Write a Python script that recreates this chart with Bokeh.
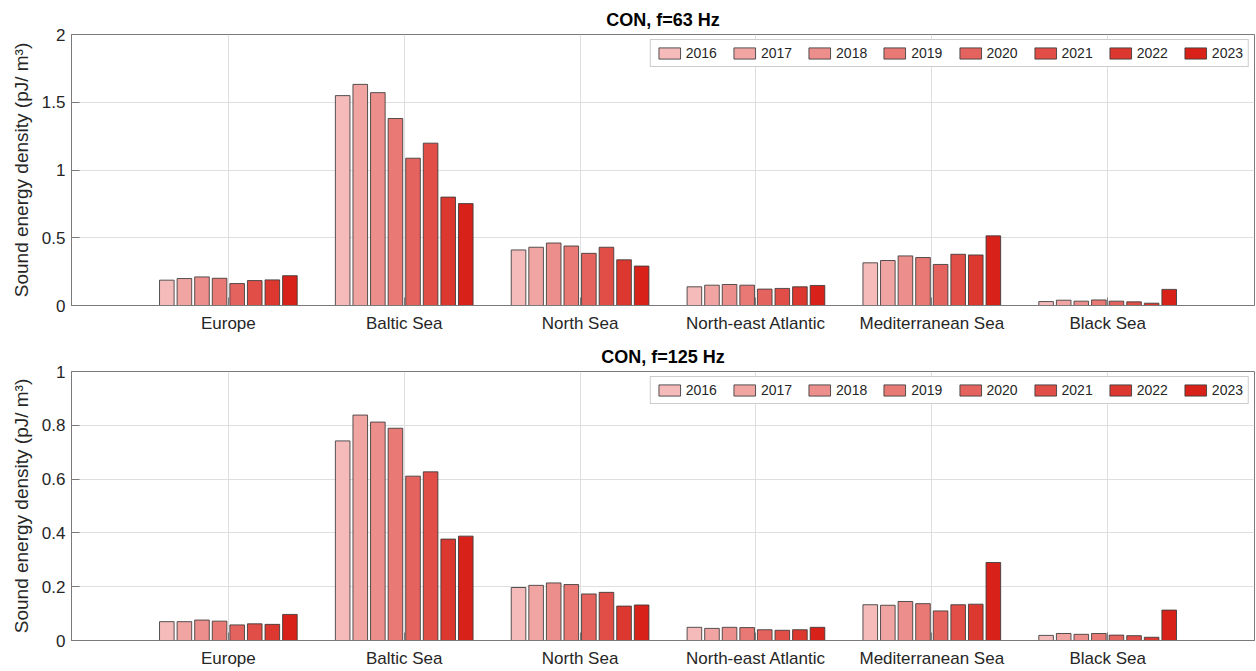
from bokeh.plotting import figure
from bokeh.layouts import column
from bokeh.models import Range1d, FixedTicker, CustomJSTickFormatter, NumeralTickFormatter, Legend, LegendItem
from bokeh.embed import file_html
from bokeh.resources import INLINE

regions = ["Europe", "Baltic Sea", "North Sea", "North-east Atlantic", "Mediterranean Sea", "Black Sea"]
years = ["2016", "2017", "2018", "2019", "2020", "2021", "2022", "2023"]

# CON, f=63 Hz  (values per region, one per year 2016..2023)
f63_europe = [0.187, 0.199, 0.211, 0.201, 0.162, 0.184, 0.189, 0.220]
f63_baltic = [1.549, 1.632, 1.571, 1.380, 1.087, 1.198, 0.800, 0.752]
f63_north = [0.410, 0.430, 0.461, 0.439, 0.385, 0.430, 0.337, 0.291]
f63_nea = [0.138, 0.150, 0.155, 0.150, 0.121, 0.126, 0.138, 0.148]
f63_med = [0.315, 0.332, 0.366, 0.354, 0.303, 0.378, 0.373, 0.514]
f63_black = [0.029, 0.039, 0.032, 0.041, 0.032, 0.027, 0.017, 0.119]

# CON, f=125 Hz
f125_europe = [0.070, 0.070, 0.076, 0.072, 0.058, 0.062, 0.060, 0.097]
f125_baltic = [0.742, 0.838, 0.812, 0.789, 0.611, 0.627, 0.377, 0.388]
f125_north = [0.197, 0.205, 0.214, 0.208, 0.173, 0.179, 0.128, 0.132]
f125_nea = [0.049, 0.045, 0.049, 0.048, 0.040, 0.038, 0.040, 0.049]
f125_med = [0.133, 0.131, 0.145, 0.137, 0.110, 0.133, 0.135, 0.290]
f125_black = [0.019, 0.026, 0.023, 0.026, 0.020, 0.018, 0.012, 0.113]

yticks_63 = [0, 0.5, 1, 1.5, 2]
yticks_125 = [0, 0.2, 0.4, 0.6, 0.8, 1]

colors = ["#f4bbba", "#f0a5a3", "#ec8f8c", "#e87975", "#e4635e", "#e04e47", "#dc3830", "#d82219"]

FONT = "Liberation Sans"
AX = "#7a7a7a"
TXT = "#262626"


def make_panel(title, data, yticks, height, top_border, bottom_border, frame_title_gap):
    p = figure(width=1255, height=height, output_backend="svg", toolbar_location=None,
               x_range=Range1d(0.108, 6.835), y_range=Range1d(yticks[0], yticks[-1]),
               min_border_left=71, min_border_right=1, min_border_top=top_border,
               min_border_bottom=bottom_border)
    p.title.text = title
    p.title.align = "center"
    p.title.text_font = FONT
    p.title.text_font_size = "18px"
    p.title.text_font_style = "bold"
    p.title.text_color = "#000000"
    p.title.standoff = frame_title_gap

    group_w = 0.8
    n = len(years)
    slot = group_w / n
    renderers = []
    for j in range(n):
        xs = [i + 1 + (j - (n - 1) / 2) * slot for i in range(len(regions))]
        tops = [d[j] for d in data]
        r = p.vbar(x=xs, top=tops, bottom=0, width=slot * 0.83, fill_color=colors[j],
                   line_color="#3a3a3a", line_alpha=0.85, line_width=1)
        renderers.append(r)

    p.xaxis.ticker = FixedTicker(ticks=list(range(1, len(regions) + 1)), minor_ticks=[])
    p.xaxis.formatter = CustomJSTickFormatter(args=dict(labels=regions),
                                              code="return labels[Math.round(tick) - 1];")
    p.yaxis.ticker = FixedTicker(ticks=yticks, minor_ticks=[])
    p.yaxis.formatter = NumeralTickFormatter(format="0.[0]")

    for ax in (p.xaxis[0], p.yaxis[0]):
        ax.major_tick_in = 8
        ax.major_tick_out = 0
        ax.minor_tick_in = 0
        ax.minor_tick_out = 0
        ax.axis_line_color = AX
        ax.major_tick_line_color = AX
        ax.major_label_text_font = FONT
        ax.major_label_text_font_size = "17px"
        ax.major_label_text_color = TXT
        ax.axis_label_text_font = FONT
        ax.axis_label_text_font_style = "normal"
        ax.axis_label_text_color = TXT
    p.xaxis.major_label_standoff = 8
    p.yaxis.major_label_standoff = 6
    p.yaxis.axis_label = "Sound energy density (pJ/ m\u00b3)"
    p.yaxis.axis_label_text_font_size = "19px"
    p.yaxis.axis_label_standoff = 7

    p.xgrid.grid_line_color = "#dfdfdf"
    p.ygrid.grid_line_color = "#dfdfdf"
    p.outline_line_color = AX
    p.outline_line_alpha = 1.0
    p.background_fill_color = "white"
    p.border_fill_color = "white"

    legend = Legend(items=[LegendItem(label=years[j], renderers=[renderers[j]]) for j in range(n)],
                    orientation="horizontal", location="top_right")
    legend.margin = 5
    legend.padding = 5
    legend.spacing = 14
    legend.glyph_width = 27
    legend.glyph_height = 14
    legend.label_standoff = 3
    legend.label_text_font = FONT
    legend.label_text_font_size = "14px"
    legend.label_text_color = TXT
    legend.label_height = 14
    legend.border_line_color = "#9a9a9a"
    legend.background_fill_alpha = 1.0
    p.add_layout(legend)
    return p


p1 = make_panel("CON, f=63 Hz",
                [f63_europe, f63_baltic, f63_north, f63_nea, f63_med, f63_black],
                yticks_63, 335, 34, 26, 9)
p2 = make_panel("CON, f=125 Hz",
                [f125_europe, f125_baltic, f125_north, f125_nea, f125_med, f125_black],
                yticks_125, 335, 36, 25, 10)

layout = column(p1, p2, spacing=0)
open("out.html", "w").write(file_html(layout, INLINE))
